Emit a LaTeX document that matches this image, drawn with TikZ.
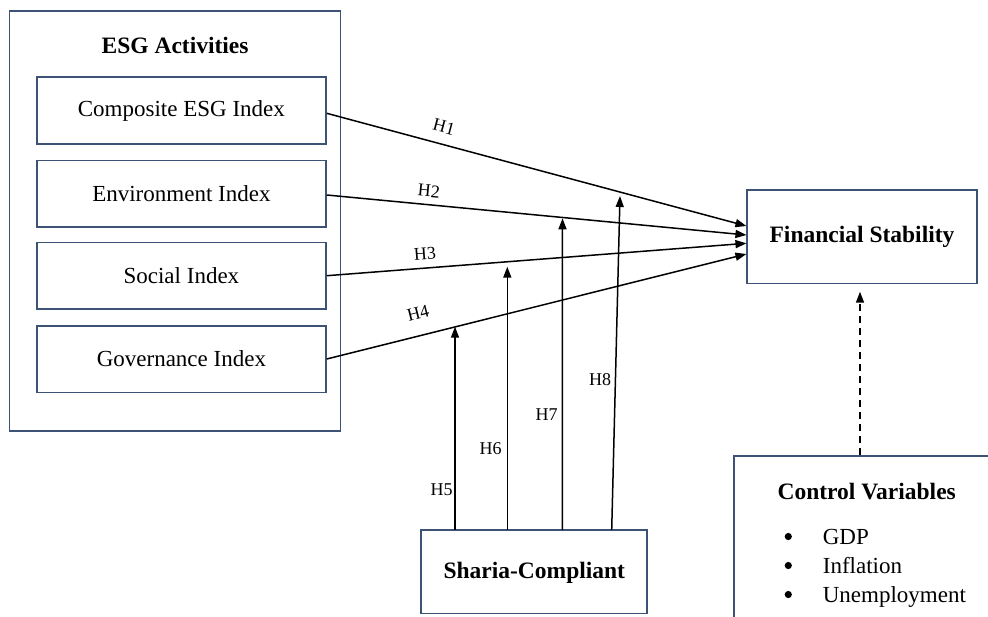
\documentclass[tikz,border=0pt]{standalone}
\usepackage{fontspec}
\setmainfont{Liberation Serif}
\usetikzlibrary{arrows.meta,calc}
\definecolor{boxblue}{RGB}{62,82,118}
\tikzset{
  x=1pt,y=-1pt,
  frame/.style={draw=boxblue,line width=1.7pt,fill=none,inner sep=0pt},
  ibox/.style={frame,minimum width=289pt,minimum height=66.7pt,font=\fontsize{23}{27}\selectfont},
  conn/.style={line width=1.5pt,-{Triangle[length=11pt,width=8pt]}},
  hlab/.style={font=\fontsize{18}{20}\selectfont,inner sep=0pt},
  btext/.style={font=\fontsize{23.5}{27}\selectfont\bfseries},
  ntext/.style={font=\fontsize{23}{27}\selectfont}
}
\begin{document}
\begin{tikzpicture}
\useasboundingbox (0,0) rectangle (988,616);
\clip (0,0) rectangle (988,616);
\fill[white] (0,0) rectangle (988,616);
% outer ESG box
\node[frame,minimum width=331pt,minimum height=420pt] (outer) at (175.1,221) {};
\node[btext] (esgt) at (175.1,45) {ESG Activities};
\node[ibox] (comp) at (181.4,110.5) {Composite ESG Index};
\node[ibox] (env) at (181.4,193.7) {Environment Index};
\node[ibox] (soc) at (181.4,275.7) {Social Index};
\node[ibox] (gov) at (181.4,359) {Governance Index};
% financial stability
\node[frame,minimum width=229.4pt,minimum height=93.3pt,btext] (fin) at (862,236.7) {Financial Stability};
% sharia
\node[frame,minimum width=226pt,minimum height=83.3pt] (sha) at (534.3,571.7) {};
\node[btext] (shat) at (534.3,573.3) {Sharia-Compliant};
% control variables box (extends past the page)
\coordinate (ctl) at (734,456);
\draw[draw=boxblue,line width=1.7pt] (ctl) rectangle (1010,640);
\node[btext] (ctlt) at (866.7,491.7) {Control Variables};
\node[ntext,anchor=base west] (g1) at (819.3,544) {GDP};
\node[ntext,anchor=base west] (g2) at (819.3,573) {Inflation};
\node[ntext,anchor=base west] (g3) at (819.3,602) {Unemployment};
\foreach \n in {g1,g2,g3}{\fill ($(\n.base west)+(-31,-7.5)$) circle (3.6pt);}
% dashed arrow
\coordinate (dtop) at (860,291.7);
\coordinate (dbot) at (860,455);
\draw[line width=1.5pt,dashed,dash pattern=on 7pt off 5pt,-{Triangle[length=11pt,width=8pt]}] (dbot) -- (dtop);
% main hypotheses
\coordinate (e1) at ($(fin.west)+(0,-10.7)$);
\coordinate (e2) at ($(fin.west)+(0,-1.7)$);
\coordinate (e3) at ($(fin.west)+(0,6.6)$);
\coordinate (e4) at ($(fin.west)+(0,17.3)$);
\draw[conn] ($(comp.east)+(0,2.8)$) -- (e1);
\draw[conn] ($(env.east)+(0,1.3)$) -- (e2);
\draw[conn] (soc.east) -- (e3);
\draw[conn] (gov.east) -- (e4);
\node[hlab,rotate=-15] (h1) at (444,127) {H1};
\node[hlab,rotate=-5.4] (h2) at (429,191) {H2};
\node[hlab,rotate=4.4] (h3) at (425,254) {H3};
\node[hlab,rotate=14] (h4) at (418,313) {H4};
% moderation arrows
\coordinate (s5) at (455,530);
\coordinate (s6) at (507.3,530);
\coordinate (s7) at (562.3,530);
\coordinate (s8) at (611.7,530);
\coordinate (t5) at (455,326.7);
\coordinate (t6) at (507.3,266.7);
\coordinate (t7) at (562.5,218.3);
\coordinate (t8) at (620,196);
\draw[conn] (s5) -- (t5);
\draw[conn] (s6) -- (t6);
\draw[conn] (s7) -- (t7);
\draw[conn] (s8) -- (t8);
\node[hlab] (h5) at (441.7,490) {H5};
\node[hlab] (h6) at (490.7,448.3) {H6};
\node[hlab] (h7) at (546.7,415) {H7};
\node[hlab] (h8) at (600,380) {H8};
\end{tikzpicture}
\end{document}
